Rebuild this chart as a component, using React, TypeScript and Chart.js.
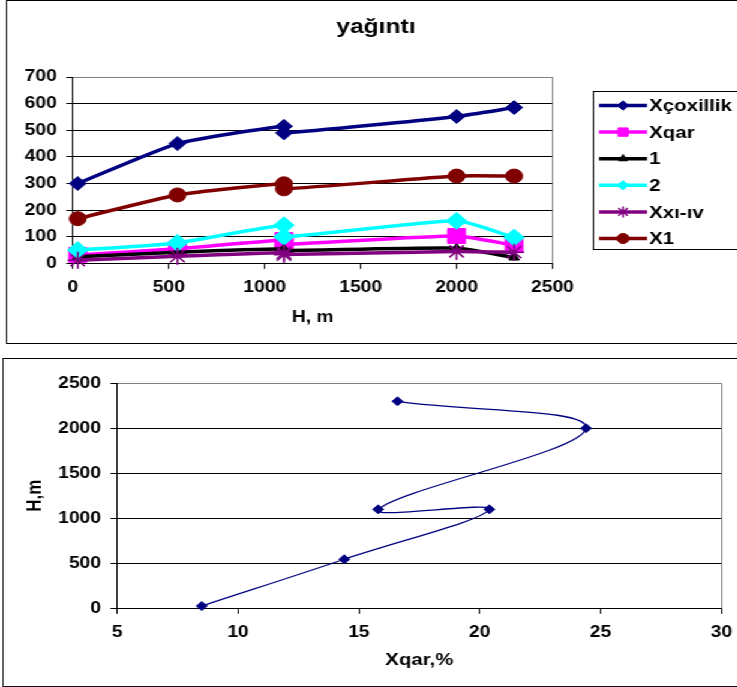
import React, { useEffect, useRef } from 'react';
import { Chart, registerables } from 'chart.js';

Chart.register(...registerables);

// ---------- data ----------
const heights = [25, 545, 1100, 1100, 2000, 2300];
const xcoxillik = [300, 450, 515, 490, 552, 585];
const xqar = [32, 55, 88, 72, 103, 68];
const s1 = [25, 42, 55, 48, 57, 22];
const s2 = [50, 77, 143, 100, 160, 97];
const xxiiv = [12, 27, 40, 33, 45, 42];
const x1 = [168, 257, 299, 280, 328, 328];
const xqarPct = [8.5, 14.4, 20.4, 15.8, 24.4, 16.6];

const seriesNames = ['Xçoxillik', 'Xqar', '1', '2', 'Xxı-ıv', 'X1'];
const topTitle = 'yağıntı';
const topXTitle = 'H, m';
const bottomXTitle = 'Xqar,%';
const bottomYTitle = 'H,m';

// ---------- styles ----------
const S = 1.2; // horizontal stretch of the picture
const FONT = "Arial, 'Liberation Sans', Helvetica, sans-serif";
const colors = ['#000080', '#FF00FF', '#000000', '#00FFFF', '#800080', '#800000'];
const pStyles = ['rectRot', 'rect', 'triangle', 'rectRot', 'star', 'circle'];
const pRadii = [7, 10.5, 5, 8.5, 8.5, 7];
const legRadii = [4.7, 5.9, 4.2, 4.7, 5.5, 5];

const TOP_W = 620;
const TOP_H = 342;
const BOT_W = 620;
const BOT_H = 327;

const plain = (v: any) => String(v);

function drawMarker(ctx: CanvasRenderingContext2D, style: string, x: number, y: number, r: number, color: string) {
  ctx.save();
  ctx.fillStyle = color;
  ctx.strokeStyle = color;
  ctx.lineWidth = 1;
  ctx.beginPath();
  if (style === 'rectRot') {
    ctx.moveTo(x - r, y);
    ctx.lineTo(x, y - r);
    ctx.lineTo(x + r, y);
    ctx.lineTo(x, y + r);
    ctx.closePath();
    ctx.fill();
    ctx.stroke();
  } else if (style === 'rect') {
    const h = r * Math.SQRT1_2;
    ctx.rect(x - h, y - h, 2 * h, 2 * h);
    ctx.fill();
    ctx.stroke();
  } else if (style === 'triangle') {
    for (let k = 0; k < 3; k++) {
      const a = (k * 2 * Math.PI) / 3;
      const px = x + Math.sin(a) * r;
      const py = y - Math.cos(a) * r;
      if (k === 0) ctx.moveTo(px, py);
      else ctx.lineTo(px, py);
    }
    ctx.closePath();
    ctx.fill();
    ctx.stroke();
  } else if (style === 'circle') {
    ctx.arc(x, y, r, 0, Math.PI * 2);
    ctx.fill();
    ctx.stroke();
  } else if (style === 'star') {
    ctx.lineWidth = 1.5;
    for (let k = 0; k < 4; k++) {
      const a = (k * Math.PI) / 4;
      ctx.moveTo(x - Math.cos(a) * r, y - Math.sin(a) * r);
      ctx.lineTo(x + Math.cos(a) * r, y + Math.sin(a) * r);
    }
    ctx.stroke();
  }
  ctx.restore();
}

const plotBorderPlugin = {
  id: 'plotBorder',
  beforeDatasetsDraw(chart: any) {
    const { ctx, chartArea } = chart;
    ctx.save();
    ctx.strokeStyle = '#808080';
    ctx.lineWidth = 1;
    const xr = Math.round(chartArea.right) + 0.5;
    ctx.beginPath();
    ctx.moveTo(xr, chartArea.top);
    ctx.lineTo(xr, chartArea.bottom);
    ctx.stroke();
    ctx.restore();
  },
};

const topDecorPlugin = {
  id: 'topDecor',
  afterDraw(chart: any) {
    const { ctx } = chart;
    ctx.save();
    ctx.fillStyle = '#000';
    ctx.font = `bold 20.5px ${FONT}`;
    ctx.textAlign = 'center';
    ctx.textBaseline = 'middle';
    ctx.fillText(topTitle, 307.3, 26);
    ctx.strokeStyle = '#000';
    ctx.lineWidth = 1;
    ctx.fillStyle = '#fff';
    ctx.fillRect(488.5, 90.5, 200, 158);
    ctx.strokeRect(488.5, 90.5, 200, 158);
    chart.data.datasets.forEach((ds: any, i: number) => {
      const y = 104.5 + 26.6 * i;
      ctx.strokeStyle = colors[i];
      ctx.lineWidth = 3.5;
      ctx.beginPath();
      ctx.moveTo(493.2, y);
      ctx.lineTo(533.2, y);
      ctx.stroke();
      drawMarker(ctx, pStyles[i], 513.2, y, legRadii[i], colors[i]);
      ctx.fillStyle = '#000';
      ctx.font = `bold 17px ${FONT}`;
      ctx.textAlign = 'left';
      ctx.textBaseline = 'middle';
      ctx.fillText(ds.label, 535, y + 1);
    });
    ctx.restore();
  },
};

const tickFont = { family: FONT, size: 16, weight: 'bold' as const };

function TopChart() {
  const ref = useRef<HTMLCanvasElement | null>(null);
  useEffect(() => {
    if (!ref.current) return;
    const series = [xcoxillik, xqar, s1, s2, xxiiv, x1];
    const chart = new Chart(ref.current, {
      type: 'scatter',
      data: {
        datasets: series.map((vals, i) => ({
          label: seriesNames[i],
          data: heights.map((h, j) => ({ x: h, y: vals[j] })),
          showLine: true,
          borderColor: colors[i],
          backgroundColor: colors[i],
          borderWidth: 3.5,
          tension: 0.18,
          pointStyle: pStyles[i] as any,
          pointRadius: pRadii[i],
          pointBackgroundColor: colors[i],
          pointBorderColor: colors[i],
          pointBorderWidth: i === 4 ? 1.6 : 1,
          clip: false as any,
          order: 5 - i,
        })),
      },
      options: {
        animation: false,
        responsive: false,
        maintainAspectRatio: false,
        devicePixelRatio: 1,
        layout: { padding: { left: 0, top: 76, right: TOP_W - 454.4, bottom: 0 } },
        plugins: {
          legend: { display: false },
          tooltip: { enabled: false },
          title: { display: false },
        },
        scales: {
          x: {
            type: 'linear',
            min: 0,
            max: 2500,
            ticks: { stepSize: 500, color: '#000', font: tickFont, padding: 9, maxRotation: 0, autoSkip: false, callback: plain },
            grid: { drawOnChartArea: false, drawTicks: true, tickLength: 5.5, color: '#000' },
            border: { display: true, color: '#000', width: 1 },
            title: {
              display: true,
              text: topXTitle,
              color: '#000',
              font: { family: FONT, size: 16, weight: 'bold' },
              padding: { top: 0, bottom: 15.8 },
            },
            afterFit: (scale: any) => {
              scale.height = TOP_H - 262.4;
            },
          },
          y: {
            type: 'linear',
            min: 0,
            max: 700,
            ticks: { stepSize: 100, color: '#000', font: tickFont, padding: 8, callback: plain },
            grid: {
              color: (c: any) => (c.tick && c.tick.value === 700 ? '#808080' : '#000'),
              tickColor: '#000',
              tickLength: 5.5,
              drawTicks: true,
            },
            border: { display: true, color: '#000', width: 1 },
            afterFit: (scale: any) => {
              scale.width = 54.8;
            },
          },
        },
      },
      plugins: [plotBorderPlugin, topDecorPlugin],
    });
    return () => chart.destroy();
  }, []);
  return <canvas ref={ref} width={TOP_W} height={TOP_H} style={{ position: 'absolute', left: 0, top: 0 }} />;
}

function BottomChart() {
  const ref = useRef<HTMLCanvasElement | null>(null);
  useEffect(() => {
    if (!ref.current) return;
    const chart = new Chart(ref.current, {
      type: 'scatter',
      data: {
        datasets: [
          {
            label: bottomXTitle,
            data: heights.map((h, j) => ({ x: xqarPct[j], y: h })),
            showLine: true,
            borderColor: '#000080',
            backgroundColor: '#000080',
            borderWidth: 1.3,
            tension: 0.4,
            pointStyle: 'rectRot',
            pointRadius: 4.5,
            pointBackgroundColor: '#000080',
            pointBorderColor: '#000080',
            pointBorderWidth: 1,
            clip: false as any,
          },
        ],
      },
      options: {
        animation: false,
        responsive: false,
        maintainAspectRatio: false,
        devicePixelRatio: 1,
        layout: { padding: { left: 0, top: 24.3, right: BOT_W - 598.2, bottom: 0 } },
        plugins: {
          legend: { display: false },
          tooltip: { enabled: false },
          title: { display: false },
        },
        scales: {
          x: {
            type: 'linear',
            min: 5,
            max: 30,
            ticks: { stepSize: 5, color: '#000', font: tickFont, padding: 9, maxRotation: 0, autoSkip: false, callback: plain },
            grid: { drawOnChartArea: false, drawTicks: true, tickLength: 5.5, color: '#000' },
            border: { display: true, color: '#000', width: 1 },
            title: {
              display: true,
              text: bottomXTitle,
              color: '#000',
              font: { family: FONT, size: 17, weight: 'bold' },
              padding: { top: 0, bottom: 15.8 },
            },
            afterFit: (scale: any) => {
              scale.height = BOT_H - 249.3;
            },
          },
          y: {
            type: 'linear',
            min: 0,
            max: 2500,
            ticks: { stepSize: 500, color: '#000', font: tickFont, padding: 8, callback: plain },
            grid: {
              color: (c: any) => (c.tick && c.tick.value === 2500 ? '#808080' : '#000'),
              tickColor: '#000',
              tickLength: 5.5,
              drawTicks: true,
            },
            border: { display: true, color: '#000', width: 1 },
            title: {
              display: true,
              text: bottomYTitle,
              color: '#000',
              font: { family: FONT, size: 17, weight: 'bold' },
              padding: { top: 16.3, bottom: 0 },
            },
            afterFit: (scale: any) => {
              scale.width = 94.6;
            },
          },
        },
      },
      plugins: [plotBorderPlugin],
    });
    return () => chart.destroy();
  }, []);
  return <canvas ref={ref} width={BOT_W} height={BOT_H} style={{ position: 'absolute', left: 0, top: 0 }} />;
}

export default function App() {
  return (
    <div
      style={{
        position: 'fixed',
        left: 0,
        top: 0,
        width: 737,
        height: 687,
        overflow: 'hidden',
        background: '#fff',
      }}
    >
      <div
        style={{
          position: 'absolute',
          left: 0,
          top: 0,
          width: 737 / S,
          height: 687,
          transform: `scaleX(${S})`,
          transformOrigin: '0 0',
        }}
      >
        <div
          style={{
            position: 'absolute',
            left: 5,
            top: 0,
            width: 640,
            height: 344,
            border: '1px solid #000',
            boxSizing: 'border-box',
            background: '#fff',
          }}
        >
          <TopChart />
        </div>
        <div
          style={{
            position: 'absolute',
            left: 1.67,
            top: 358,
            width: 640,
            height: 329,
            border: '1px solid #000',
            boxSizing: 'border-box',
            background: '#fff',
          }}
        >
          <BottomChart />
        </div>
      </div>
    </div>
  );
}
